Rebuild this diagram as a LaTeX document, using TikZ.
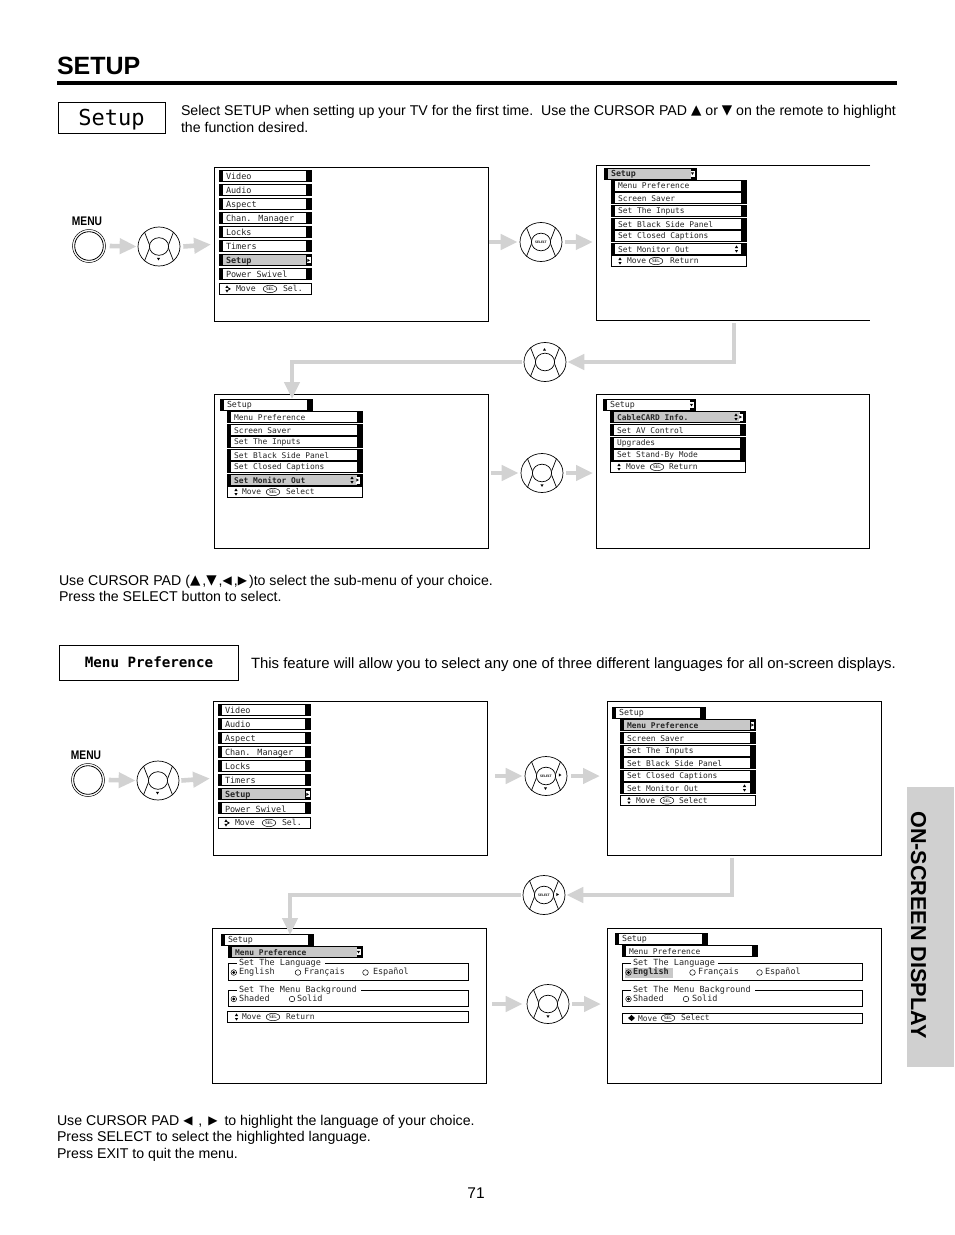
\documentclass[tikz,border=0pt]{standalone}
\usepackage{fontspec}
\setmainfont{Liberation Sans}
\newfontfamily\mono{DejaVu Sans Mono}
\newfontfamily\dv{DejaVu Sans}
\usetikzlibrary{arrows.meta,calc,shapes.geometric}
\definecolor{arrowgray}{HTML}{D2D2D2}
\definecolor{hl}{HTML}{C8C8C8}
\definecolor{tab}{HTML}{D0D0D0}
\newcommand{\monosz}[1]{\fontsize{#1}{#1}\selectfont\mono}
\newcommand{\sans}[1]{\fontsize{#1}{#1}\selectfont}
\newcommand{\gup}{{\dv\sans{13.5}\raisebox{1pt}{▲}}}
\newcommand{\gdown}{{\dv\sans{13.5}\raisebox{1pt}{▼}}}
\newcommand{\gleft}{{\dv\sans{12}\raisebox{1pt}{◀}}}
\newcommand{\gright}{{\dv\sans{12}\raisebox{1pt}{▶}}}
% triangles
\newcommand{\tdown}[2]{\fill (#1-1.6,#2-1.2) -- (#1+1.6,#2-1.2) -- (#1,#2+1.4) -- cycle;}
\newcommand{\tup}[2]{\fill (#1-1.6,#2+1.2) -- (#1+1.6,#2+1.2) -- (#1,#2-1.4) -- cycle;}
\newcommand{\tright}[2]{\fill (#1-1.2,#2-1.6) -- (#1-1.2,#2+1.6) -- (#1+1.4,#2) -- cycle;}
\newcommand{\updown}[2]{\tup{#1}{#2-2.2}\tdown{#1}{#2+2.2}}
\tikzset{
  screen/.style={draw,line width=0.8,fill=white},
  rowbox/.style={draw,line width=0.9},
  rowtxt/.style={anchor=west,inner sep=0,outer sep=0,text=black!85},
  body/.style={anchor=base west,inner sep=0,outer sep=0,text=black},
  garrow/.style={draw=arrowgray,line width=4.6,-{Triangle[length=17,width=15,fill=arrowgray]}},
  btn/.style={ellipse,draw,line width=0.7,minimum width=42,minimum height=39,inner sep=0},
}
\newcommand{\mrow}[6][white]{% fill, x1,x2,yc,fs,text
  \fill[#1] (#2,#4-5.5) rectangle (#3,#4+5.5);
  \draw[rowbox] (#2,#4-5.5) rectangle (#3,#4+5.5);
  \fill (#2,#4-5.5) rectangle (#2+4.2,#4+5.5);
  \fill (#3-4.6,#4-5.5) rectangle (#3,#4+5.5);
  \node[rowtxt] at (#2+7,#4+0.4) {\monosz{#5}#6};
}
\newcommand{\sel}[2]{\draw[line width=0.5] (#1,#2) ellipse (6.8 and 3.7);
  \node[inner sep=0,text=black] at (#1,#2) {\monosz{4.4}SEL};}
\newcommand{\foot}[8]{%
  \draw[rowbox,fill=white] (#1,#3-5.2) rectangle (#2,#3+5.2);
  \node[rowtxt] at (#5,#3) {\monosz{#4}Move};
  \sel{#6}{#3}
  \node[rowtxt] at (#7,#3) {\monosz{#4}#8};
}
\newcommand{\remote}[4]{%
  \node[btn] (#1) at (#2,#3) {};
  \foreach \a in {45,135,225,315}{\draw[line width=0.7] (#1.center)++(\a:9) -- (#1.\a);}
  \draw[line width=0.7,fill=white] (#1.center) ellipse (9.6 and 8.8);
  \node[inner sep=0] at (#1.center) {\monosz{3.2}\bfseries #4};
}
\newcommand{\menubtn}[3]{%
  \node[circle,draw,line width=0.5,minimum size=33,inner sep=0] (#1) at (#2,#3) {};
  \draw[line width=0.8] (#1.center) circle (14.3);
  \node[inner sep=0,anchor=base] at (#2-2,#3-21) {\sans{12.5}\bfseries\addfontfeatures{FakeStretch=0.82}MENU};
}
\newcommand{\mainmenu}[2]{% x left, y first
  \mrow{#1}{#1+92}{#2}{8.5}{Video}
  \mrow{#1}{#1+92}{#2+14}{8.5}{Audio}
  \mrow{#1}{#1+92}{#2+28}{8.5}{Aspect}
  \mrow{#1}{#1+92}{#2+42}{8.5}{Chan. Manager}
  \mrow{#1}{#1+92}{#2+56}{8.5}{Locks}
  \mrow{#1}{#1+92}{#2+70}{8.5}{Timers}
  \mrow[hl]{#1}{#1+92}{#2+84}{8.5}{\bfseries Setup}
  \fill[white] (#1+87.5,#2+84-3) rectangle (#1+91.6,#2+84+3);
  \tright{#1+89.6}{#2+84}
  \mrow{#1}{#1+92}{#2+98}{8.5}{Power Swivel}
  \draw[rowbox,fill=white] (#1+0.5,#2+107) rectangle (#1+92,#2+118);
  \updown{#1+8}{#2+112.5}
  \tright{#1+10.5}{#2+112.5}
  \node[rowtxt] at (#1+17,#2+112.5) {\monosz{8.2}Move};
  \sel{#1+51}{#2+112.5}
  \node[rowtxt] at (#1+64,#2+112.5) {\monosz{8.2}Sel.};
}
\begin{document}
\begin{tikzpicture}[x=1pt,y=-1pt]
\useasboundingbox (0,0) rectangle (954,1235);
\fill[white] (0,0) rectangle (954,1235);
% title
\node[body] (title) at (57,74.5) {\sans{25}\bfseries SETUP};
\fill (57,81) rectangle (897,84.5);
\node[draw,line width=0.8,minimum width=107,minimum height=31,inner sep=0] (setupbox) at (111.5,117.5) {\raisebox{-7.5pt}[0pt][0pt]{\monosz{22}Setup}};
\node[body] (p1) at (181,115) {\sans{14.15}Select SETUP when setting up your TV for the first time.\ \ Use the CURSOR PAD \gup{} or \gdown{} on the remote to highlight};
\node[body] (p2) at (181,132) {\sans{14.15}the function desired.};
% screens
\node[screen,minimum width=274.2,minimum height=154.2,inner sep=0] (s1) at (351.5,244.5) {};
\node[minimum width=274,minimum height=155,inner sep=0] (s2) at (733,243) {};
\draw[line width=0.8] (870,165) -- (596,165) -- (596,320.5) -- (870,320.5);
\node[screen,minimum width=274.2,minimum height=154.2,inner sep=0] (s3) at (351.5,471.5) {};
\node[screen,minimum width=273.2,minimum height=154.2,inner sep=0] (s4) at (733,471.5) {};
\node[screen,minimum width=274.2,minimum height=154.2,inner sep=0] (s5) at (350.5,778.5) {};
\node[screen,minimum width=274.2,minimum height=154.2,inner sep=0] (s6) at (744.5,778.5) {};
\node[screen,minimum width=274.2,minimum height=155.2,inner sep=0] (s7) at (349.5,1006) {};
\node[screen,minimum width=274.2,minimum height=155.2,inner sep=0] (s8) at (744.5,1006) {};
% S1
\mainmenu{219}{176.4}
% S2
\mrow[hl]{604}{696}{173.5}{8.3}{\bfseries Setup}
\fill[white] (690.5,170.5) rectangle (694.5,176.5);
\tdown{692.5}{173.5}
\mrow{611}{746}{185.5}{7.9}{Menu Preference}
\mrow{611}{746}{198}{7.9}{Screen Saver}
\mrow{611}{746}{211}{7.9}{Set The Inputs}
\mrow{611}{746}{224}{7.9}{Set Black Side Panel}
\mrow{611}{746}{236}{7.9}{Set Closed Captions}
\mrow{611}{746}{249}{7.9}{Set Monitor Out}
\updown{736.5}{249}
\foot{611.5}{746.5}{261}{7.9}{627}{656}{670}{Return}
\updown{620}{261}
% S3
\mrow{220}{312}{405}{8.3}{Setup}
\mrow{227}{362}{417}{7.9}{Menu Preference}
\mrow{227}{362}{430}{7.9}{Screen Saver}
\mrow{227}{362}{442}{7.9}{Set The Inputs}
\mrow{227}{362}{455}{7.9}{Set Black Side Panel}
\mrow{227}{362}{467}{7.9}{Set Closed Captions}
\mrow[hl]{227}{362}{480}{7.9}{\bfseries Set Monitor Out}
\updown{352}{480}
\fill[white] (355.5,476.5) rectangle (359.5,483.5);
\tright{357.5}{480}
\foot{227}{362}{492}{7.9}{242}{273}{286}{Select}
\updown{236}{492}
% S4
\mrow{603}{695}{405}{8.3}{Setup}
\fill[white] (689.5,402) rectangle (693.5,408);
\tdown{691.5}{405}
\mrow[hl]{610}{745}{417}{7.9}{\bfseries CableCARD Info.}
\updown{736}{417}
\fill[white] (738.5,413.5) rectangle (742.5,420.5);
\tright{740.5}{417}
\mrow{610}{745}{430}{7.9}{Set AV Control}
\mrow{610}{745}{443}{7.9}{Upgrades}
\mrow{610}{745}{455}{7.9}{Set Stand-By Mode}
\foot{610.5}{745.5}{467}{7.9}{626}{657}{669}{Return}
\updown{619}{467}
% S5
\mainmenu{218}{710.4}
% S6
\mrow{612}{705}{713}{8.3}{Setup}
\mrow[hl]{620}{755}{725}{7.9}{\bfseries Menu Preference}
\fill[white] (750.5,721.5) rectangle (754.4,728.5);
\tright{752.5}{725}
\mrow{620}{755}{738}{7.9}{Screen Saver}
\mrow{620}{755}{750.5}{7.9}{Set The Inputs}
\mrow{620}{755}{763}{7.9}{Set Black Side Panel}
\mrow{620}{755}{776}{7.9}{Set Closed Captions}
\mrow{620}{755}{788}{7.9}{Set Monitor Out}
\updown{744.5}{788}
\foot{620.5}{755.5}{800.5}{7.9}{636}{667}{679}{Select}
\updown{629}{800.5}
% S7
\mrow{221}{313}{940}{8.3}{Setup}
\mrow[hl]{228}{362}{952}{7.9}{\bfseries Menu Preference}
\fill[white] (356.5,949) rectangle (360.5,955);
\tdown{358.5}{952}
\draw[rowbox] (228,963) rectangle (468,980.5);
\fill[white] (237,960) rectangle (324.5,966);
\node[rowtxt] at (239,962.8) {\monosz{8.5}Set The Language};
\draw[line width=0.5] (233.8,972.5) circle (2.8); \fill (233.8,972.5) circle (1.6);
\node[rowtxt] at (239,972.3) {\monosz{8.5}English};
\draw[line width=0.5] (298,972.5) circle (2.8);
\node[rowtxt] at (304,972.3) {\monosz{8.5}Français};
\draw[line width=0.5] (365.5,972.5) circle (2.8);
\node[rowtxt] at (373,972.3) {\monosz{8.5}Español};
\draw[rowbox] (228,990.5) rectangle (468,1006.5);
\fill[white] (237,987) rectangle (361,993);
\node[rowtxt] at (239,989.8) {\monosz{8.5}Set The Menu Background};
\draw[line width=0.5] (233.8,999) circle (2.8); \fill (233.8,999) circle (1.6);
\node[rowtxt] at (239,998.2) {\monosz{8.5}Shaded};
\draw[line width=0.5] (292,999) circle (2.8);
\node[rowtxt] at (297,998.2) {\monosz{8.5}Solid};
\foot{227.5}{468}{1017}{7.9}{242}{273}{286}{Return}
\updown{236.5}{1017}
% S8
\mrow{615}{707}{939}{8.3}{Setup}
\mrow{622}{757}{951}{7.9}{Menu Preference}
\draw[rowbox] (622,963.5) rectangle (862.5,980.5);
\fill[white] (631,960) rectangle (718,966);
\node[rowtxt] at (633,962.8) {\monosz{8.5}Set The Language};
\fill[hl] (625,968) rectangle (673,978);
\draw[line width=0.5] (628.5,972.5) circle (2.8); \fill (628.5,972.5) circle (1.6);
\node[rowtxt] at (633,972.3) {\monosz{8.5}\bfseries English};
\draw[line width=0.5] (692.5,972.5) circle (2.8);
\node[rowtxt] at (698,972.3) {\monosz{8.5}Français};
\draw[line width=0.5] (759.5,972.5) circle (2.8);
\node[rowtxt] at (765,972.3) {\monosz{8.5}Español};
\draw[rowbox] (622,990.5) rectangle (862.5,1006.5);
\fill[white] (631,987) rectangle (755,993);
\node[rowtxt] at (633,989.8) {\monosz{8.5}Set The Menu Background};
\draw[line width=0.5] (628.5,999) circle (2.8); \fill (628.5,999) circle (1.6);
\node[rowtxt] at (633,998.2) {\monosz{8.5}Shaded};
\draw[line width=0.5] (686,999) circle (2.8);
\node[rowtxt] at (692,998.2) {\monosz{8.5}Solid};
\draw[rowbox] (622,1013.5) rectangle (862.5,1023.5);
\fill (631.5,1014.8) -- (634.8,1018) -- (631.5,1021.2) -- (628.2,1018) -- cycle;
\node[rowtxt] at (638,1018.3) {\monosz{7.9}Move};
\sel{668}{1018}
\node[rowtxt] at (681,1017.3) {\monosz{7.9}Select};
% remotes
\menubtn{m1}{89}{246}
\remote{r1}{159}{246.5}{}
\tdown{158.5}{259}
\remote{r2}{541}{242}{SELECT}
\remote{r3}{545}{362}{}
\tup{544.5}{349.5}
\remote{r4}{542}{473}{}
\tdown{542}{485.5}
\menubtn{m2}{88}{780}
\remote{r5}{158}{780.5}{}
\tdown{157.5}{793}
\remote{r6}{546}{776}{SELECT}
\tright{560}{775}
\tdown{545.5}{788.5}
\remote{r7}{544}{895}{SELECT}
\tright{557.5}{894.5}
\remote{r8}{548}{1004}{}
\tdown{548}{1016.5}
% arrows, upper
\draw[garrow] ([xshift=4]m1.east) -- ([xshift=-1]r1.west);
\draw[garrow] ([xshift=3]r1.east) -- ([xshift=-3]s1.west);
\draw[garrow] ([xshift=0]s1.east|-r2) -- ([xshift=-2]r2.west);
\draw[garrow] ([xshift=3]r2.east) -- ([xshift=-3]s2.west|-r2);
\draw[garrow] ($(s2.south)+(1,2.5)$) |- ([xshift=1]r3.east);
\draw[garrow] ([xshift=-2]r3.west) -| ([yshift=-5]s3.north-|292,0);
\draw[garrow] ([xshift=2]s3.east|-r4) -- ([xshift=-2]r4.west);
\draw[garrow] ([xshift=3]r4.east) -- ([xshift=-3]s4.west|-r4);
% arrows, lower
\draw[garrow] ([xshift=4]m2.east) -- ([xshift=-1]r5.west);
\draw[garrow] ([xshift=2]r5.east) -- ([xshift=-3]s5.west);
\draw[garrow] ([xshift=7]s5.east|-r6) -- ([xshift=-2]r6.west);
\draw[garrow] ([xshift=4]r6.east) -- ([xshift=-7]s6.west|-r6);
\draw[garrow] ($(s6.south)+(-12.5,1.5)$) |- ([xshift=1]r7.east);
\draw[garrow] ([xshift=-2]r7.west) -| ([yshift=-7]s7.north-|290,0);
\draw[garrow] ([xshift=5]s7.east|-r8) -- ([xshift=-4]r8.west);
\draw[garrow] ([xshift=3]r8.east) -- ([xshift=-6]s8.west|-r8);
% text
\node[body] (t1) at (59,585) {\sans{14.15}Use CURSOR PAD (\gup\kern2pt,\gdown\kern2pt,\gleft\kern2pt,\gright\kern2pt)to select the sub-menu of your choice.};
\node[body] (t2) at (59,601) {\sans{14.15}Press the SELECT button to select.};
\node[draw,line width=0.8,minimum width=179.2,minimum height=35.2,inner sep=0] (mpbox) at (149,662.5) {\monosz{14.2}\bfseries Menu Preference};
\node[body] (t3) at (251,668) {\sans{14.9}This feature will allow you to select any one of three different languages for all on-screen displays.};
\node[body] (t4) at (57,1125) {\sans{14.15}Use CURSOR PAD \gleft\kern2pt{} ,\kern2pt{} \gright\kern3pt{} to highlight the language of your choice.};
\node[body] (t5) at (57,1141) {\sans{14.15}Press SELECT to select the highlighted language.};
\node[body] (t6) at (57,1158) {\sans{14.15}Press EXIT to quit the menu.};
\node[anchor=base,inner sep=0] (pg) at (476,1198) {\sans{15.5}71};
% tab
\fill[tab] (907,787) rectangle (954,1067);
\node[rotate=-90,inner sep=0] (tabtext) at (918.5,925) {\sans{21.6}\bfseries ON-SCREEN DISPLAY};
\end{tikzpicture}
\end{document}
